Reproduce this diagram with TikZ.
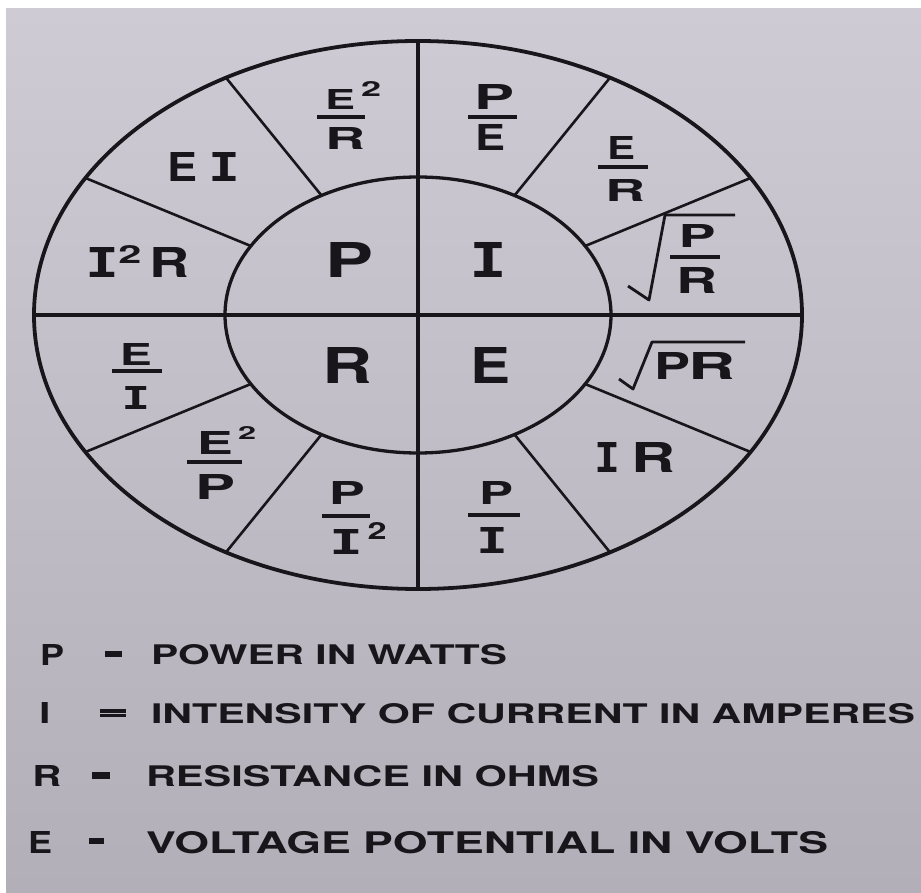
\documentclass[tikz,border=0pt]{standalone}
\usepackage{fontspec}
\setmainfont{TeX Gyre Heros}
\newfontfamily\monofnt{DejaVu Sans Mono}
\usepackage{graphicx}
\newcommand\G[3]{\resizebox{#1pt}{#2pt}{#3}}
\newcommand\SI{{\monofnt\bfseries I}}
\definecolor{paperTop}{RGB}{206,203,212}
\definecolor{paperBot}{RGB}{178,175,184}
\definecolor{ink}{RGB}{24,22,26}
\begin{document}
\begin{tikzpicture}[x=1pt,y=-1pt,
  lbl/.style={inner sep=0pt,outer sep=0pt,font=\bfseries,text=ink},
  ring/.style={draw=ink,line width=3.8pt},
  inring/.style={draw=ink,line width=3.3pt},
  axisline/.style={draw=ink,line width=3.2pt},
  spoke/.style={draw=ink,line width=2.6pt},
  fbar/.style={draw=ink,line width=3.6pt},
  radical/.style={draw=ink,line width=2.8pt,line join=round},
  legend/.style={lbl,anchor=west}]
\useasboundingbox (0,0) rectangle (921,893);
\clip (0,0) rectangle (921,893);
\fill[white] (0,0) rectangle (921,893);
\shade[top color=paperTop,bottom color=paperBot] (6,9) rectangle (921,893);

% rings
\draw[ring] (418,315) ellipse [x radius=384pt,y radius=274pt];
\draw[inring] (418,315) ellipse [x radius=193pt,y radius=138pt];
% axes
\coordinate (top) at (418,41);
\coordinate (bot) at (418,589);
\coordinate (lft) at (34,315);
\coordinate (rgt) at (802,315);
\draw[axisline] (top) -- (bot);
\draw[axisline] (lft) -- (rgt);
% spokes
\foreach \a in {30,60,120,150,210,240,300,330}{
  \coordinate (in\a) at ({418+193*cos(\a)},{315+138*sin(\a)});
  \coordinate (out\a) at ({418+384*cos(\a)},{315+274*sin(\a)});
  \draw[spoke] (in\a) -- (out\a);
}

% central letters
\node[lbl] (cP) at (350,260) {\G{48}{35}{P}};
\node[lbl] (cI) at (488,260) {\G{38}{35}{\SI}};
\node[lbl] (cR) at (348,365) {\G{50}{36}{R}};
\node[lbl] (cE) at (491,365) {\G{40}{36}{E}};

% E^2/R
\node[lbl] (erE) at (340,100) {\G{30}{20}{E}};
\node[lbl] (erT) at (371,89) {\G{20}{15}{2}};
\draw[fbar] (317,117) -- (365,117);
\node[lbl] (erR) at (345,139) {\G{40}{22}{R}};
% EI
\node[lbl] (eiE) at (182,167) {\G{30}{29}{E}};
\node[lbl] (eiI) at (225,167) {\G{32}{29}{\SI}};
% I^2R
\node[lbl] (irI) at (103,262) {\G{34}{30}{\SI}};
\node[lbl] (irT) at (130,254) {\G{23}{18}{2}};
\node[lbl] (irR) at (170,262) {\G{40}{30}{R}};
% P/E
\node[lbl] (peP) at (495,97) {\G{40}{25}{P}};
\draw[fbar] (468,117) -- (517,117);
\node[lbl] (peE) at (490,138) {\G{30}{26}{E}};
% E/R
\node[lbl] (qeE) at (621,148) {\G{28}{23}{E}};
\draw[fbar] (598,167) -- (648,167);
\node[lbl] (qeR) at (625,191) {\G{40}{22}{R}};
% sqrt(P/R)
\node[lbl] (sP) at (697,236) {\G{37}{23}{P}};
\draw[fbar] (670,257) -- (720,257);
\node[lbl] (sR) at (697,280) {\G{41}{26}{R}};
\draw[radical] (628,286) -- (649,300) -- (665,215) -- (735,215);
% sqrt(PR)
\node[lbl] (qP) at (672,366) {\G{36}{27}{P}};
\node[lbl] (qR) at (712,366) {\G{47}{27}{R}};
\draw[radical] (619,379) -- (633,389) -- (652,342) -- (745,342);
% IR
\node[lbl] (iRI) at (607,457) {\G{26}{30}{\SI}};
\node[lbl] (iRR) at (653,457) {\G{44}{30}{R}};
% P/I
\node[lbl] (piP) at (496,493) {\G{34}{23}{P}};
\draw[fbar] (468,515) -- (520,515);
\node[lbl] (piI) at (492,540) {\G{32}{26}{\SI}};
% P/I^2
\node[lbl] (pqP) at (347,493) {\G{36}{23}{P}};
\draw[fbar] (322,516) -- (370,516);
\node[lbl] (pqI) at (346,542) {\G{34}{25}{\SI}};
\node[lbl] (pqT) at (377,531) {\G{19}{17}{2}};
% E^2/P
\node[lbl] (epE) at (215,443) {\G{36}{23}{E}};
\node[lbl] (epT) at (247,433) {\G{18}{13}{2}};
\draw[fbar] (187,462) -- (242,462);
\node[lbl] (epP) at (216,487) {\G{40}{25}{P}};
% E/I
\node[lbl] (eqE) at (136,354) {\G{32}{22}{E}};
\draw[fbar] (112,371) -- (162,371);
\node[lbl] (eqI) at (136,398) {\G{29}{23}{\SI}};

% legend
\node[lbl] (lP) at (52,655) {\G{24}{21}{P}};
\node[lbl] (dP) at (113,654) {\rule{17pt}{6pt}};
\node[legend] (tP) at (151,655) {\G{356}{20}{POWER IN WATTS}};

\node[lbl] (lI) at (45,713) {\G{11}{21}{I}};
\node[lbl] (dI) at (113,713) {\rule[3.5pt]{26pt}{3.5pt}\llap{\rule[-1pt]{26pt}{3.5pt}}};
\node[legend] (tI) at (151,714) {\G{764}{20}{INTENSITY OF CURRENT IN AMPERES}};

\node[lbl] (lR) at (47,776) {\G{29}{21}{R}};
\node[lbl] (dR) at (101,775) {\rule{18pt}{7pt}};
\node[legend] (tR) at (146,776) {\G{453}{21}{RESISTANCE IN OHMS}};

\node[lbl] (lE) at (40,842) {\G{24}{22}{E}};
\node[lbl] (dE) at (96,841) {\rule{15pt}{6pt}};
\node[legend] (tE) at (146,843) {\G{682}{22}{VOLTAGE POTENTIAL IN VOLTS}};
\end{tikzpicture}
\end{document}
